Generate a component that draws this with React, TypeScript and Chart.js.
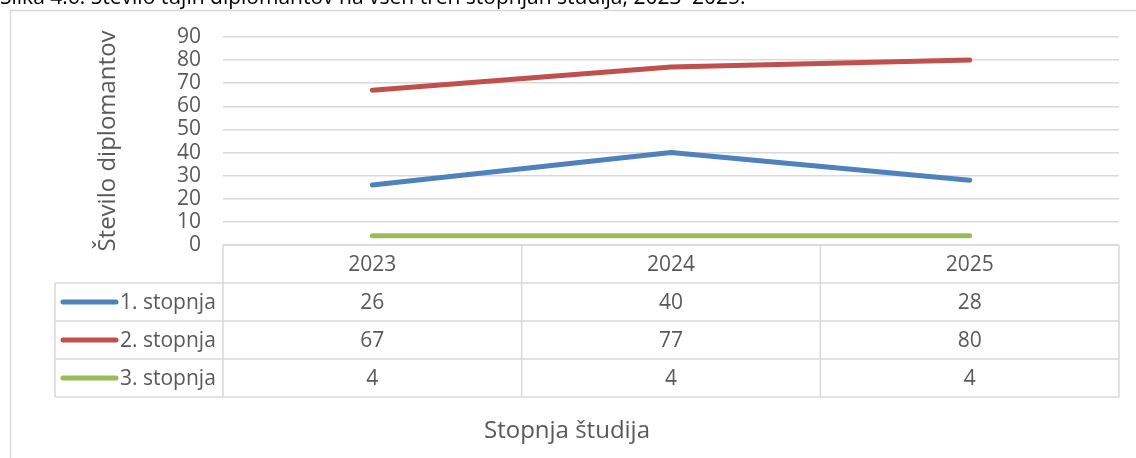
import React, { useEffect, useRef } from "react";
import { Chart, registerables } from "chart.js";

Chart.register(...registerables);

const captionText = "Slika 4.6: Število tujih diplomantov na vseh treh stopnjah študija, 2023–2025.";
const categories = ["2023", "2024", "2025"];
const seriesNames = ["1. stopnja", "2. stopnja", "3. stopnja"];
const series1 = [26, 40, 28];
const series2 = [67, 77, 80];
const series3 = [4, 4, 4];
const seriesColors = ["#4F81BD", "#C0504D", "#9BBB59"];
const yTicks = [0, 10, 20, 30, 40, 50, 60, 70, 80, 90];
const yTitle = "Število diplomantov";
const xTitle = "Stopnja študija";

const FONT = "'Open Sans', 'Noto Sans', sans-serif";
const TEXT = "#595959";
const GRID = "#d9d9d9";

export default function App() {
  const ref = useRef<HTMLCanvasElement>(null);
  useEffect(() => {
    if (!ref.current) return;
    const allSeries = [series1, series2, series3];
    const rowH = 38;
    const legendLeft = 55;

    const tablePlugin = {
      id: "tablePlugin",
      beforeDraw(chart: any) {
        const ctx = chart.ctx;
        ctx.save();
        ctx.fillStyle = "#000";
        ctx.font = `21px ${FONT}`;
        ctx.textBaseline = "alphabetic";
        ctx.textAlign = "left";
        ctx.fillText(captionText, 0, 4);
        ctx.strokeStyle = GRID;
        ctx.lineWidth = 1.5;
        ctx.beginPath();
        ctx.moveTo(10.5, 470);
        ctx.lineTo(10.5, 10.5);
        ctx.lineTo(1200, 10.5);
        ctx.stroke();
        ctx.restore();
      },
      afterDraw(chart: any) {
        const ctx = chart.ctx;
        const xs = chart.scales.x;
        const area = chart.chartArea;
        const n = categories.length;
        const catW = (area.right - area.left) / n;
        const top = area.bottom;
        const bottom = top + rowH * (allSeries.length + 1);
        ctx.save();
        ctx.strokeStyle = GRID;
        ctx.lineWidth = 1.5;
        ctx.beginPath();
        ctx.moveTo(area.left, top);
        ctx.lineTo(area.right, top);
        for (let r = 1; r <= allSeries.length + 1; r++) {
          const y = top + r * rowH;
          ctx.moveTo(legendLeft, y);
          ctx.lineTo(area.right, y);
        }
        ctx.moveTo(legendLeft, top + rowH);
        ctx.lineTo(legendLeft, bottom);
        for (let i = 0; i <= n; i++) {
          const x = i < n ? xs.getPixelForValue(i) - catW / 2 : xs.getPixelForValue(n - 1) + catW / 2;
          ctx.moveTo(x, top);
          ctx.lineTo(x, bottom);
        }
        ctx.stroke();

        ctx.fillStyle = TEXT;
        ctx.font = `21px ${FONT}`;
        ctx.textAlign = "center";
        ctx.textBaseline = "middle";
        categories.forEach((c, i) => {
          ctx.fillText(c, xs.getPixelForValue(i), top + rowH / 2 + 1);
        });
        allSeries.forEach((s, r) => {
          const yc = top + (r + 1) * rowH + rowH / 2 + 1;
          s.forEach((v, i) => {
            ctx.fillText(String(v), xs.getPixelForValue(i), yc);
          });
          ctx.strokeStyle = seriesColors[r];
          ctx.lineWidth = 5;
          ctx.lineCap = "round";
          ctx.beginPath();
          ctx.moveTo(63, yc - 1);
          ctx.lineTo(116, yc - 1);
          ctx.stroke();
          ctx.textAlign = "left";
          ctx.fillText(seriesNames[r], 120, yc);
          ctx.textAlign = "center";
        });

        ctx.font = `24px ${FONT}`;
        ctx.fillText(xTitle, 567, 431);
        ctx.restore();
      },
    };

    const chart = new Chart(ref.current, {
      type: "line",
      data: {
        labels: categories,
        datasets: allSeries.map((s, i) => ({
          label: seriesNames[i],
          data: s,
          borderColor: seriesColors[i],
          backgroundColor: seriesColors[i],
          borderWidth: 5,
          borderCapStyle: "round" as const,
          borderJoinStyle: "round" as const,
          pointRadius: 0,
          tension: 0,
        })),
      },
      options: {
        animation: false,
        responsive: false,
        layout: { padding: { left: 0, top: 37, right: 17, bottom: 0 } },
        plugins: { legend: { display: false }, tooltip: { enabled: false } },
        scales: {
          x: {
            offset: true,
            grid: { display: false, drawTicks: false },
            border: { display: false },
            ticks: { display: false },
            afterFit(scale: any) {
              scale.height = 213;
            },
          },
          y: {
            min: 0,
            max: 90,
            afterBuildTicks(scale: any) {
              scale.ticks = yTicks.map((v) => ({ value: v }));
            },
            grid: { color: GRID, lineWidth: 1.5, drawTicks: false },
            border: { display: false },
            ticks: {
              color: TEXT,
              font: { family: FONT, size: 21 },
              padding: 22,
              autoSkip: false,
              stepSize: 10,
            },
            title: {
              display: true,
              text: yTitle,
              color: TEXT,
              font: { family: FONT, size: 24 },
              padding: { top: 94, bottom: 0 },
            },
            afterFit(scale: any) {
              scale.width = 223;
            },
          },
        },
      },
      plugins: [tablePlugin],
    });
    return () => chart.destroy();
  }, []);

  return (
    <div style={{ position: "fixed", left: 0, top: 0, width: 1136, height: 458, background: "#fff" }}>
      <canvas ref={ref} width={1136} height={458} style={{ display: "block" }} />
    </div>
  );
}
